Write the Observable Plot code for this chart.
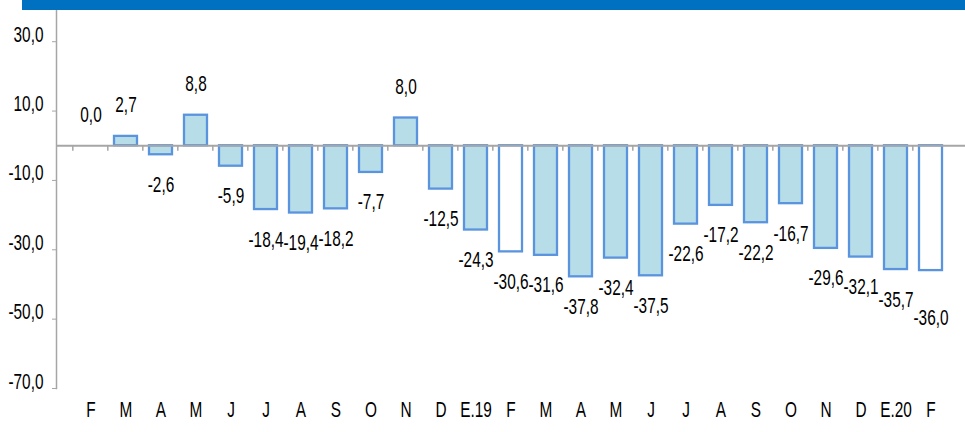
<!DOCTYPE html>
<html>
<head>
<meta charset="utf-8">
<script src="https://cdn.jsdelivr.net/npm/d3@7"></script>
<script src="https://cdn.jsdelivr.net/npm/@observablehq/plot@0.6"></script>
<style>
  html, body { margin: 0; padding: 0; background: #fff; }
  #wrap { position: relative; width: 965px; height: 432px; overflow: hidden; }
  #band { position: absolute; left: 22px; top: 0; width: 943px; height: 10px; background: #0070c0; }
  svg { font-family: "Liberation Sans", Arial, sans-serif; }
</style>
</head>
<body>
<div id="wrap"><div id="chart"></div><div id="band"></div></div>
<script>
const months = ["F","M","A","M","J","J","A","S","O","N","D","E.19","F","M","A","M","J","J","A","S","O","N","D","E.20","F"];
const values = [0.0, 2.7, -2.6, 8.8, -5.9, -18.4, -19.4, -18.2, -7.7, 8.0, -12.5, -24.3, -30.6, -31.6, -37.8, -32.4, -37.5, -22.6, -17.2, -22.2, -16.7, -29.6, -32.1, -35.7, -36.0];
const yTicks = [30, 10, -10, -30, -50, -70];

const data = months.map((m, i) => ({key: i, label: m, value: values[i]}));
const fmt = v => v.toFixed(1).replace(".", ",");

const W = 965, H = 432, ML = 56, MR = 0, MT = 10, MB = 44;
const step = (W - ML - MR) / months.length;

// negative labels that would collide with their neighbour's label drop lower
const negDy = d => {
  const prev = data[d.key - 1];
  const clash = prev && prev.value < 0 && Math.abs(prev.value - d.value) < 0.5;
  return clash ? 54 : 37;
};
const pos = data.filter(d => d.value >= 0);
const neg = data.filter(d => d.value < 0);

const plot = Plot.plot({
  width: W,
  height: H,
  marginLeft: ML,
  marginRight: MR,
  marginTop: MT,
  marginBottom: MB,
  style: {fontSize: "22px", color: "#000", background: "white"},
  x: {domain: data.map(d => d.key), padding: 0.34, label: null},
  y: {domain: [-70, 39], label: null},
  marks: [
    Plot.frame({anchor: "left", stroke: "#a6a6a6", strokeWidth: 1.5}),
    Plot.axisY({ticks: yTicks, tickSize: 4, tickPadding: 9, tickFormat: fmt, stroke: "#a6a6a6", fill: "#000", label: null, fontSize: 22}),
    Plot.axisX({tickSize: 0, tickPadding: 28, tickFormat: i => months[i], fill: "#000", label: null, fontSize: 22}),
    Plot.barY(data, {
      x: "key", y: "value",
      fill: d => d.label === "F" ? "white" : "#b7dde8",
      stroke: "#5b94de", strokeWidth: 2.3
    }),
    Plot.ruleY([0], {stroke: "#a6a6a6", strokeWidth: 2}),
    Plot.ruleX(data, {x: "key", y1: 0, y2: -1.6, dx: -step / 2, stroke: "#a6a6a6", strokeWidth: 1.5}),
    Plot.text(pos, {
      x: "key", y: "value", text: d => fmt(d.value), dy: -24, lineAnchor: "middle", fill: "#000", fontSize: 22
    }),
    ...neg.map(d => Plot.text([d], {
      x: "key", y: "value", text: d => fmt(d.value), dy: negDy(d), lineAnchor: "middle", fill: "#000", fontSize: 22
    }))
  ]
});

// condense all text horizontally (narrow face look)
plot.querySelectorAll("text").forEach(t => {
  let tr = t.getAttribute("transform") || "";
  const x = t.getAttribute("x"), y = t.getAttribute("y");
  if (x !== null || y !== null) {
    tr = `translate(${+x || 0},${+y || 0}) ` + tr;
    t.removeAttribute("x"); t.removeAttribute("y");
  }
  t.setAttribute("transform", tr + " scale(0.7,1)");
});
document.getElementById("chart").appendChild(plot);
</script>
</body>
</html>
